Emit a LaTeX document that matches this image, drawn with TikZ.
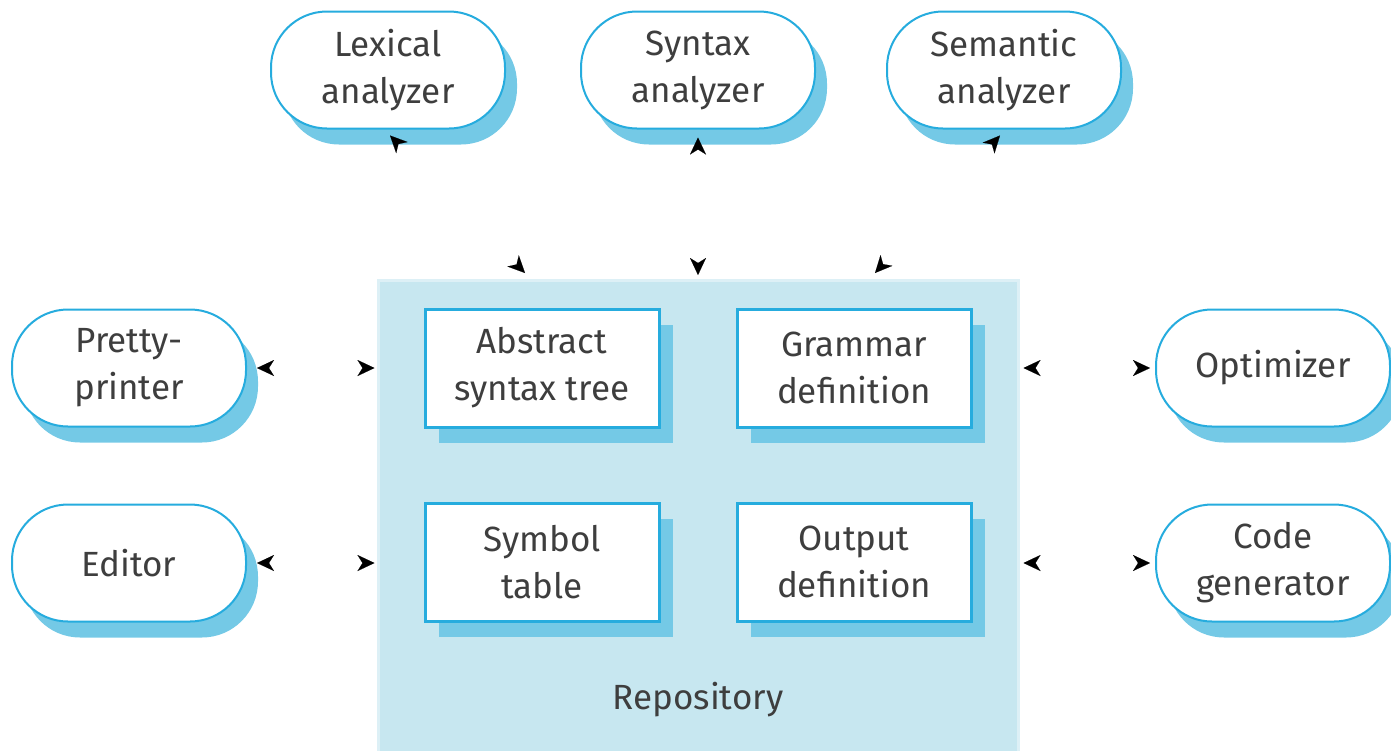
\documentclass[tikz,border=0pt]{standalone}
\usepackage{fontspec}
\setmainfont{Fira Sans}
\usetikzlibrary{arrows.meta,shadows}

\definecolor{edge}{RGB}{38,172,222}
\definecolor{shade}{RGB}{116,201,230}
\definecolor{repofill}{RGB}{199,231,240}
\definecolor{repoline}{RGB}{221,240,246}
\definecolor{ink}{RGB}{62,62,62}

\begin{document}
\begin{tikzpicture}[x=0.5pt,y=-0.5pt,
  label text/.style={text=ink, align=center, font=\fontsize{17.5}{23.5}\selectfont},
  tool/.style={label text, draw=edge, line width=1pt, fill=white,
    rounded corners=28pt, minimum width=117pt, minimum height=58.5pt,
    drop shadow={shadow xshift=6pt, shadow yshift=-8pt, fill=shade, opacity=1}},
  store/.style={label text, draw=edge, line width=1.5pt, fill=white,
    minimum width=117pt, minimum height=59pt,
    drop shadow={shadow xshift=7pt, shadow yshift=-8pt, fill=shade, opacity=1}},
  conn/.style={draw=white, line width=0.05pt,
    >={Stealth[color=black, fill=black, length=8.5pt, width=8pt, inset=2.5pt]}, <->}]

  \useasboundingbox (0,0) rectangle (1391,750);

  % repository
  \node[fill=repofill, draw=repoline, line width=1.5pt, minimum width=320pt,
        minimum height=236pt, inner sep=0pt] (repo) at (698,516) {};
  \node[label text] (repolabel) at (698,700) {Repository};

  % repository contents
  \node[store] (ast) at (542,368) {Abstract\\syntax tree};
  \node[store] (gram) at (854,368) {Grammar\\definition};
  \node[store] (sym) at (542,562) {Symbol\\table};
  \node[store] (out) at (854,562) {Output\\definition};

  % tools around the repository
  \node[tool] (lex) at (388,70) {Lexical\\analyzer};
  \node[tool] (syn) at (698,70) {Syntax\\analyzer};
  \node[tool] (sem) at (1004,70) {Semantic\\analyzer};
  \node[tool] (pp) at (129,368) {Pretty-\\printer};
  \node[tool] (ed) at (129,563) {Editor};
  \node[tool] (opt) at (1273,368) {Optimizer};
  \node[tool] (cg) at (1273,563) {Code\\generator};

  % connector ends on the repository
  \coordinate (rLex) at (525,273);
  \coordinate (rSyn) at (698,275);
  \coordinate (rSem) at (875,273);

  % tool <-> repository connections
  \draw[conn] ([xshift=1pt,yshift=-3pt]lex.south) -- (rLex);
  \draw[conn] ([yshift=-4pt]syn.south) -- (rSyn);
  \draw[conn] ([xshift=-2pt,yshift=-3pt]sem.south) -- (rSem);
  \draw[conn] ([xshift=5pt]pp.east) -- ([xshift=-1pt]repo.west |- pp.east);
  \draw[conn] ([xshift=5pt]ed.east) -- ([xshift=-1pt]repo.west |- ed.east);
  \draw[conn] ([xshift=-2.5pt]opt.west) -- ([xshift=2pt]repo.east |- opt.west);
  \draw[conn] ([xshift=-2.5pt]cg.west) -- ([xshift=2pt]repo.east |- cg.west);
\end{tikzpicture}
\end{document}
